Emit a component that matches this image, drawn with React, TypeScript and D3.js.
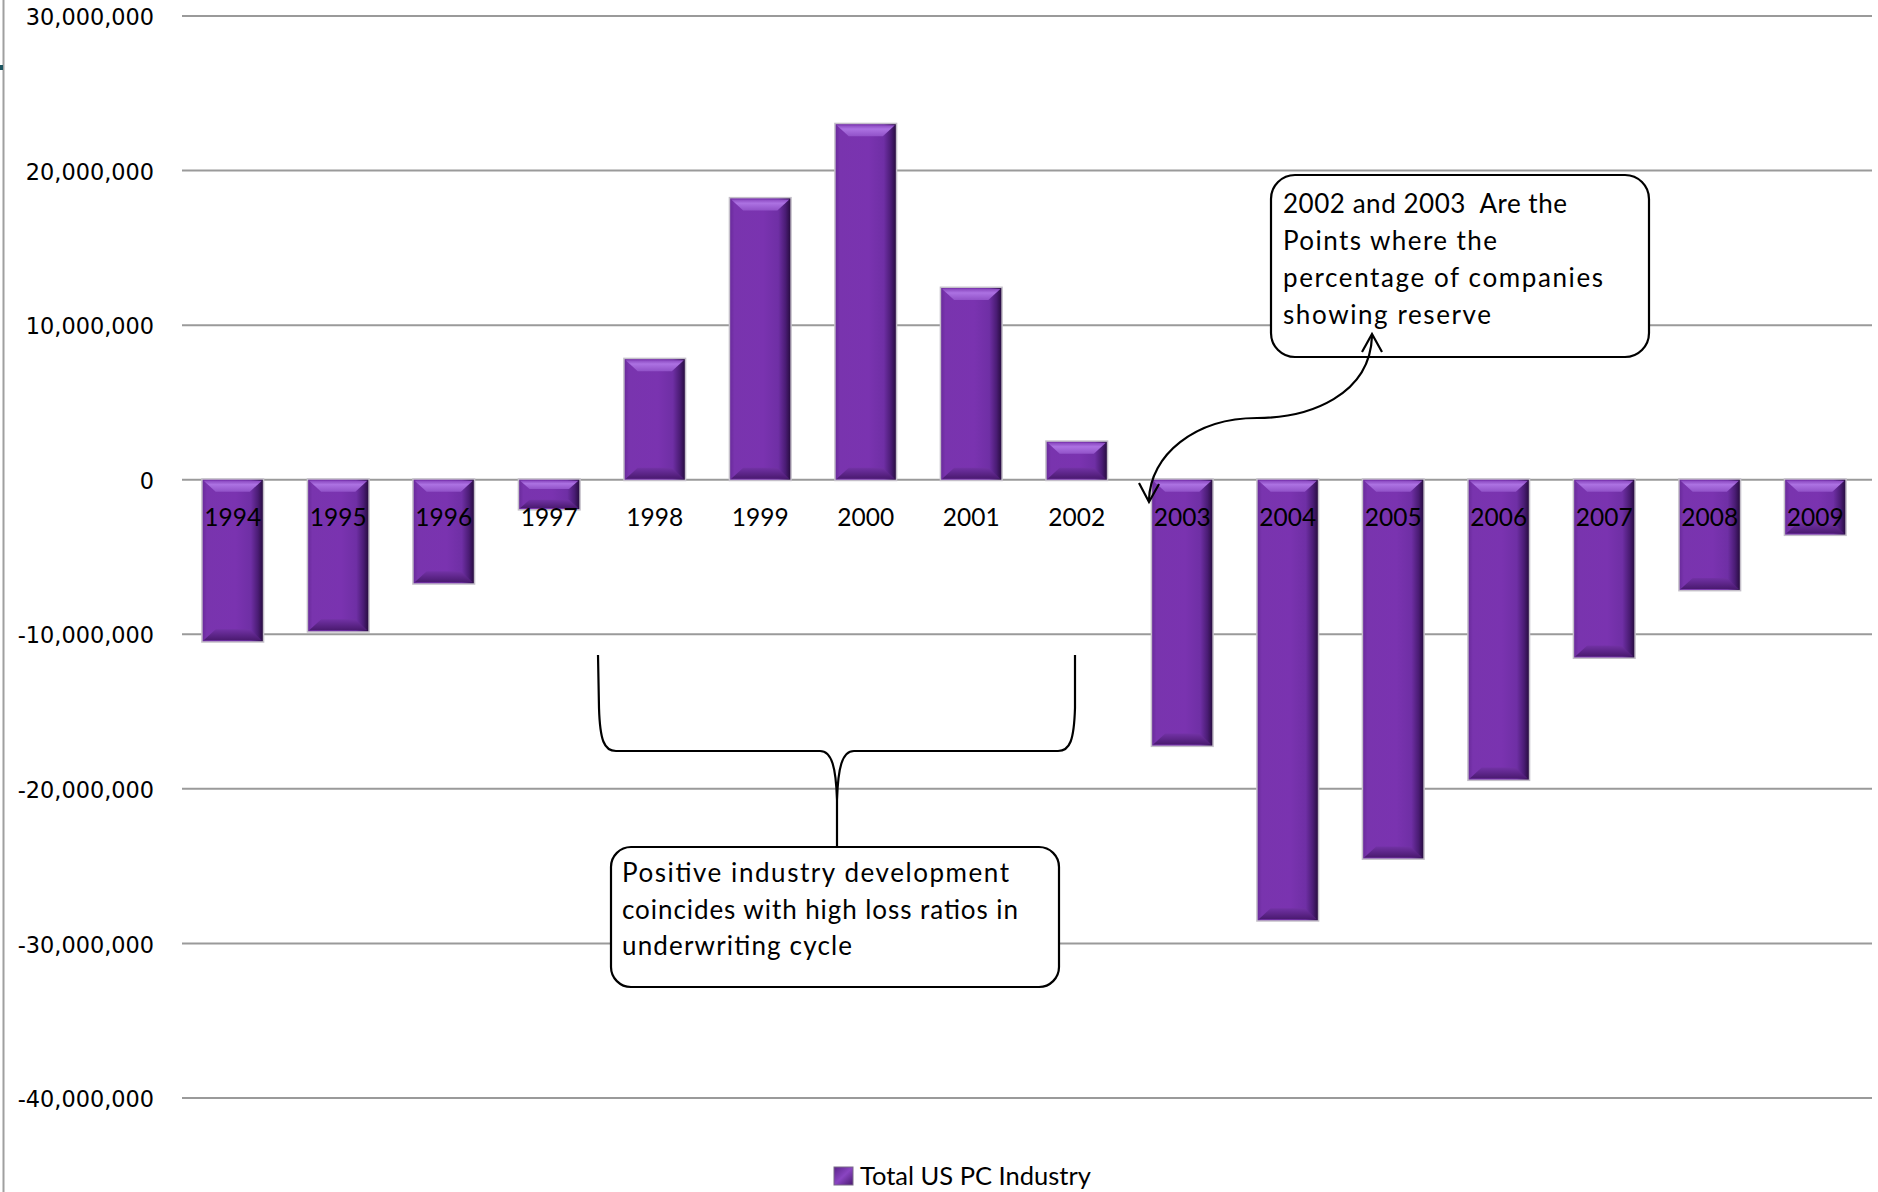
import React from 'react';
import * as d3 from 'd3';

// Reserve development by accident year, Total US P&C industry
const years = ['1994', '1995', '1996', '1997', '1998', '1999', '2000', '2001', '2002', '2003', '2004', '2005', '2006', '2007', '2008', '2009'];
const development = [-10.45e6, -9.8e6, -6.7e6, -1.9e6, 7.8e6, 18.2e6, 23.0e6, 12.4e6, 2.45e6, -17.2e6, -28.5e6, -24.5e6, -19.4e6, -11.5e6, -7.13e6, -3.55e6];
const yTicks = [30e6, 20e6, 10e6, 0, -10e6, -20e6, -30e6, -40e6];
const seriesName = 'Total US PC Industry';
const noteReserve = ['2002 and 2003  Are the', 'Points where the', 'percentage of companies', 'showing reserve'];
const noteCycle = ['Positive industry development', 'coincides with high loss ratios in', 'underwriting cycle'];
// set widths of the callout lines
const noteReserveWidths = [284, 214, 320, 208];
const noteCycleWidths = [387, 396, 230];

const W = 1878;
const H = 1192;
const CAL = 'Lato, "Open Sans", sans-serif';
const AXIS_FONT = '"DejaVu Sans", Verdana, sans-serif';

const fmt = d3.formatLocale({ decimal: '.', thousands: ',', grouping: [3], currency: ['$', ''], minus: '-' }).format(',');

function Bar({ x0, y0, w, h }: { x0: number; y0: number; w: number; h: number }) {
  const b = Math.min(12, h * 0.32);
  const inset = b * 1.0;
  return (
    <g>
      <rect x={x0 - 1.5} y={y0 - 1.5} width={w + 3} height={h + 3} fill="#c4bfc9" />
      <rect x={x0} y={y0} width={w} height={h} fill="url(#barBody)" />
      {/* top bevel */}
      <polygon
        points={`${x0 + 1},${y0 + 1} ${x0 + w - 1},${y0 + 1} ${x0 + w - 1 - inset},${y0 + b} ${x0 + 1 + inset},${y0 + b}`}
        fill="url(#barTop)"
      />
      {/* bottom bevel */}
      <polygon
        points={`${x0 + 1 + inset},${y0 + h - b} ${x0 + w - 1 - inset},${y0 + h - b} ${x0 + w - 1},${y0 + h - 1} ${x0 + 1},${y0 + h - 1}`}
        fill="url(#barBottom)"
      />
    </g>
  );
}

export default function App() {
  const y = d3.scaleLinear().domain([-40e6, 30e6]).range([1098, 16]);
  const x = d3.scaleBand<string>().domain(years).range([180, 1868]).paddingInner(0.43).paddingOuter(0.215);
  const bw = x.bandwidth();
  const y0 = y(0);

  const gridLeft = 182;
  const gridRight = 1872;

  const arrowPath = d3.path();
  arrowPath.moveTo(1372, 336);
  arrowPath.bezierCurveTo(1370, 395, 1310, 418, 1257, 418);
  arrowPath.bezierCurveTo(1195, 418, 1150, 455, 1149, 500);

  const brace =
    'M598,655 L599,708 C600,740 604,751 616,751 L820,751 C832,751 836,768 837,800 L837,847 ' +
    'M837,800 C838,768 842,751 854,751 L1058,751 C1070,751 1074,740 1075,708 L1075,655';

  return (
    <svg width={W} height={H} style={{ position: 'absolute', left: 0, top: 0, background: '#fff' }}>
      <defs>
        <linearGradient id="barBody" x1="0" y1="0" x2="1" y2="0">
          <stop offset="0" stopColor="#6a2b9c" />
          <stop offset="0.07" stopColor="#7934ae" />
          <stop offset="0.55" stopColor="#7a33b0" />
          <stop offset="0.8" stopColor="#6f2fa5" />
          <stop offset="0.92" stopColor="#4a1c74" />
          <stop offset="1" stopColor="#290d42" />
        </linearGradient>
        <linearGradient id="barTop" x1="0" y1="0" x2="0" y2="1">
          <stop offset="0" stopColor="#8a48c0" />
          <stop offset="0.35" stopColor="#ac72e2" />
          <stop offset="1" stopColor="#9152c8" />
        </linearGradient>
        <linearGradient id="barBottom" x1="0" y1="0" x2="0" y2="1">
          <stop offset="0" stopColor="#7232a5" />
          <stop offset="1" stopColor="#4a1a70" />
        </linearGradient>
        <linearGradient id="legendFill" x1="0" y1="0" x2="1" y2="1">
          <stop offset="0" stopColor="#5a2388" />
          <stop offset="0.5" stopColor="#8a45c2" />
          <stop offset="1" stopColor="#4a1a70" />
        </linearGradient>
      </defs>

      {/* chart frame edge */}
      <line x1={3.5} x2={3.5} y1={0} y2={H} stroke="#a0a0a0" strokeWidth={2} />
      <rect x={0} y={65} width={3} height={5} fill="#1d5560" />

      {/* gridlines and value axis */}
      {yTicks.map((t) => (
        <g key={t}>
          <line x1={gridLeft} x2={gridRight} y1={y(t)} y2={y(t)} stroke="#9a9a9a" strokeWidth={2} />
          <text x={154} y={y(t) + 9.2} textAnchor="end" fontFamily={AXIS_FONT} fontSize={22.4} fill="#000">
            {fmt(t)}
          </text>
        </g>
      ))}

      {/* bars */}
      {years.map((yr, i) => {
        const v = development[i];
        const top = Math.min(y(v), y0);
        const h = Math.abs(y(v) - y0);
        return <Bar key={yr} x0={x(yr)!} y0={top} w={bw} h={h} />;
      })}

      {/* category labels */}
      {years.map((yr) => (
        <text key={yr} x={x(yr)! + bw / 2} y={526} textAnchor="middle" fontFamily={CAL} fontSize={24.5} fill="#000">
          {yr}
        </text>
      ))}

      {/* reserve callout */}
      <rect x={1271} y={175} width={378} height={182} rx={24} fill="#fff" stroke="#000" strokeWidth={2.2} />
      {noteReserve.map((s, i) => (
        <text
          key={s}
          x={1283}
          y={213 + i * 37}
          fontFamily={CAL}
          fontSize={26}
          fill="#000"
          textLength={noteReserveWidths[i]}
          lengthAdjust="spacing"
          style={{ whiteSpace: 'pre' }}
        >
          {s}
        </text>
      ))}
      <path d={arrowPath.toString()} fill="none" stroke="#000" strokeWidth={2.2} />
      <polyline points="1362,352 1372,334 1382,352" fill="none" stroke="#000" strokeWidth={2.2} />
      <polyline points="1139,483 1149,502 1159,484" fill="none" stroke="#000" strokeWidth={2.2} />

      {/* underwriting cycle brace and callout */}
      <path d={brace} fill="none" stroke="#000" strokeWidth={2.2} />
      <rect x={611} y={847} width={448} height={140} rx={20} fill="#fff" stroke="#000" strokeWidth={2.2} />
      {noteCycle.map((s, i) => (
        <text
          key={s}
          x={622}
          y={882 + i * 36.5}
          fontFamily={CAL}
          fontSize={26}
          fill="#000"
          textLength={noteCycleWidths[i]}
          lengthAdjust="spacing"
        >
          {s}
        </text>
      ))}

      {/* legend */}
      <rect x={834} y={1167} width={19} height={18} fill="url(#legendFill)" stroke="#7a6a88" strokeWidth={1} />
      <text x={860} y={1185} fontFamily={CAL} fontSize={25.5} fill="#000">
        {seriesName}
      </text>
    </svg>
  );
}
